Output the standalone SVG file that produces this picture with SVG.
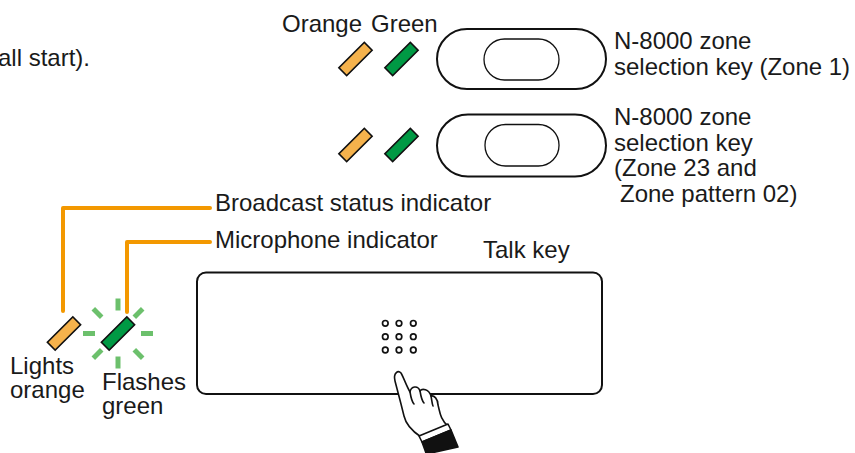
<svg xmlns="http://www.w3.org/2000/svg" width="855" height="453" viewBox="0 0 855 453">
  <style>
    text { font-family: "Liberation Sans", Arial, Helvetica, sans-serif; font-size: 24px; fill: #1a1a1a; }
    .ind { stroke: #111; stroke-width: 1.6; }
    .amber { fill: #f5b24c; }
    .green { fill: #009944; }
    .outline { fill: #fff; stroke: #111; }
    .leader { fill: none; stroke: #f39800; stroke-width: 4; stroke-linecap: round; stroke-linejoin: round; }
    .flash { stroke: #6cc06c; stroke-width: 5; }
    .dot { fill: #fff; stroke: #111; stroke-width: 1.7; }
  </style>
  <defs>
    <rect id="lamp" x="-18" y="-5.5" width="36" height="11" transform="rotate(-45)"/>
  </defs>

  <text x="90" y="66" text-anchor="end">all start).</text>

  <!-- colour legend -->
  <g id="legend">
    <text x="282" y="32">Orange</text>
    <text x="371" y="32">Green</text>
  </g>

  <!-- zone selection key 1 -->
  <g id="zone-key-1">
    <use href="#lamp" class="ind amber" transform="translate(355.5,59)"/>
    <use href="#lamp" class="ind green" transform="translate(401.5,59)"/>
    <rect x="437" y="29" width="169" height="60" rx="30" class="outline" stroke-width="2"/>
    <rect x="484" y="39" width="75" height="41" rx="20.5" class="outline" stroke-width="1.3"/>
    <text x="614" y="49">N-8000 zone</text>
    <text x="614" y="75">selection key (Zone 1)</text>
  </g>

  <!-- zone selection key 2 -->
  <g id="zone-key-2">
    <use href="#lamp" class="ind amber" transform="translate(355.5,145)"/>
    <use href="#lamp" class="ind green" transform="translate(401.5,145)"/>
    <rect x="437" y="114.5" width="169" height="62" rx="31" class="outline" stroke-width="2"/>
    <rect x="485" y="124.5" width="74" height="41.5" rx="20.5" class="outline" stroke-width="1.3"/>
    <text x="614" y="125">N-8000 zone</text>
    <text x="614" y="150.5">selection key</text>
    <text x="614" y="176">(Zone 23 and</text>
    <text x="620" y="201.5">Zone pattern 02)</text>
  </g>

  <!-- leader lines -->
  <g id="connectors">
    <polyline class="leader" points="63,311 63,208 210,208"/>
    <polyline class="leader" points="127,312 127,242 210,242"/>
  </g>

  <g id="broadcast-label">
    <text x="215" y="211">Broadcast status indicator</text>
  </g>
  <g id="microphone-label">
    <text x="215" y="248">Microphone indicator</text>
  </g>

  <!-- broadcast status indicator (steady orange) -->
  <g id="broadcast-indicator">
    <use href="#lamp" class="ind amber" transform="translate(64,333.5)"/>
    <text x="10" y="374">Lights</text>
    <text x="10" y="398">orange</text>
  </g>

  <!-- microphone indicator (flashing green) -->
  <g id="microphone-indicator">
    <g class="flash" transform="translate(118,333.5)">
      <line x1="0" y1="-23" x2="0" y2="-35"/>
      <line x1="0" y1="23" x2="0" y2="35"/>
      <line x1="-23" y1="0" x2="-35" y2="0"/>
      <line x1="23" y1="0" x2="35" y2="0"/>
      <line x1="-16.3" y1="-16.3" x2="-24.7" y2="-24.7"/>
      <line x1="16.3" y1="-16.3" x2="24.7" y2="-24.7"/>
      <line x1="-16.3" y1="16.3" x2="-24.7" y2="24.7"/>
      <line x1="16.3" y1="16.3" x2="24.7" y2="24.7"/>
    </g>
    <use href="#lamp" class="ind green" transform="translate(118,333.5)"/>
    <text x="102" y="390">Flashes</text>
    <text x="102" y="414">green</text>
  </g>

  <!-- talk key -->
  <g id="talk-key">
    <text x="483" y="258">Talk key</text>
    <rect x="197" y="272.5" width="405" height="121.5" rx="9" fill="#fff" stroke="#111" stroke-width="2"/>
    <circle class="dot" cx="385.3" cy="323.3" r="2.8"/>
    <circle class="dot" cx="399" cy="323.3" r="2.8"/>
    <circle class="dot" cx="413.3" cy="323.3" r="2.8"/>
    <circle class="dot" cx="385.3" cy="336.7" r="2.8"/>
    <circle class="dot" cx="399" cy="336.7" r="2.8"/>
    <circle class="dot" cx="413.3" cy="336.7" r="2.8"/>
    <circle class="dot" cx="385.3" cy="350" r="2.8"/>
    <circle class="dot" cx="399" cy="350" r="2.8"/>
    <circle class="dot" cx="413.3" cy="350" r="2.8"/>
  </g>

  <!-- pressing hand -->
  <g id="hand" stroke="#111" stroke-width="1.6" stroke-linejoin="round" stroke-linecap="round">
    <path fill="#fff" d="M 421,437 C 412,431 406,425 404,416 L 401,404 L 395,381 C 393,373 398,370 401,373 C 403,376 406,385 410,392 C 411,386 418,385 420,391 C 422,388 429,389 431,396 C 434,395 438,399 438,405 C 440,412 440,419 448,426 Z"/>
    <path fill="none" d="M 410,392 C 411,398 412,402 414,404 M 420,391 C 421,397 422,401 424,403 M 431,396 C 432,401 432,404 433,406"/>
    <path fill="#fff" d="M 419,436 L 448,424 L 451,430 L 422,442 Z"/>
    <path fill="#111" d="M 422,442 L 451,430 L 458,447 L 431,453 L 426,453 Z"/>
  </g>
</svg>
